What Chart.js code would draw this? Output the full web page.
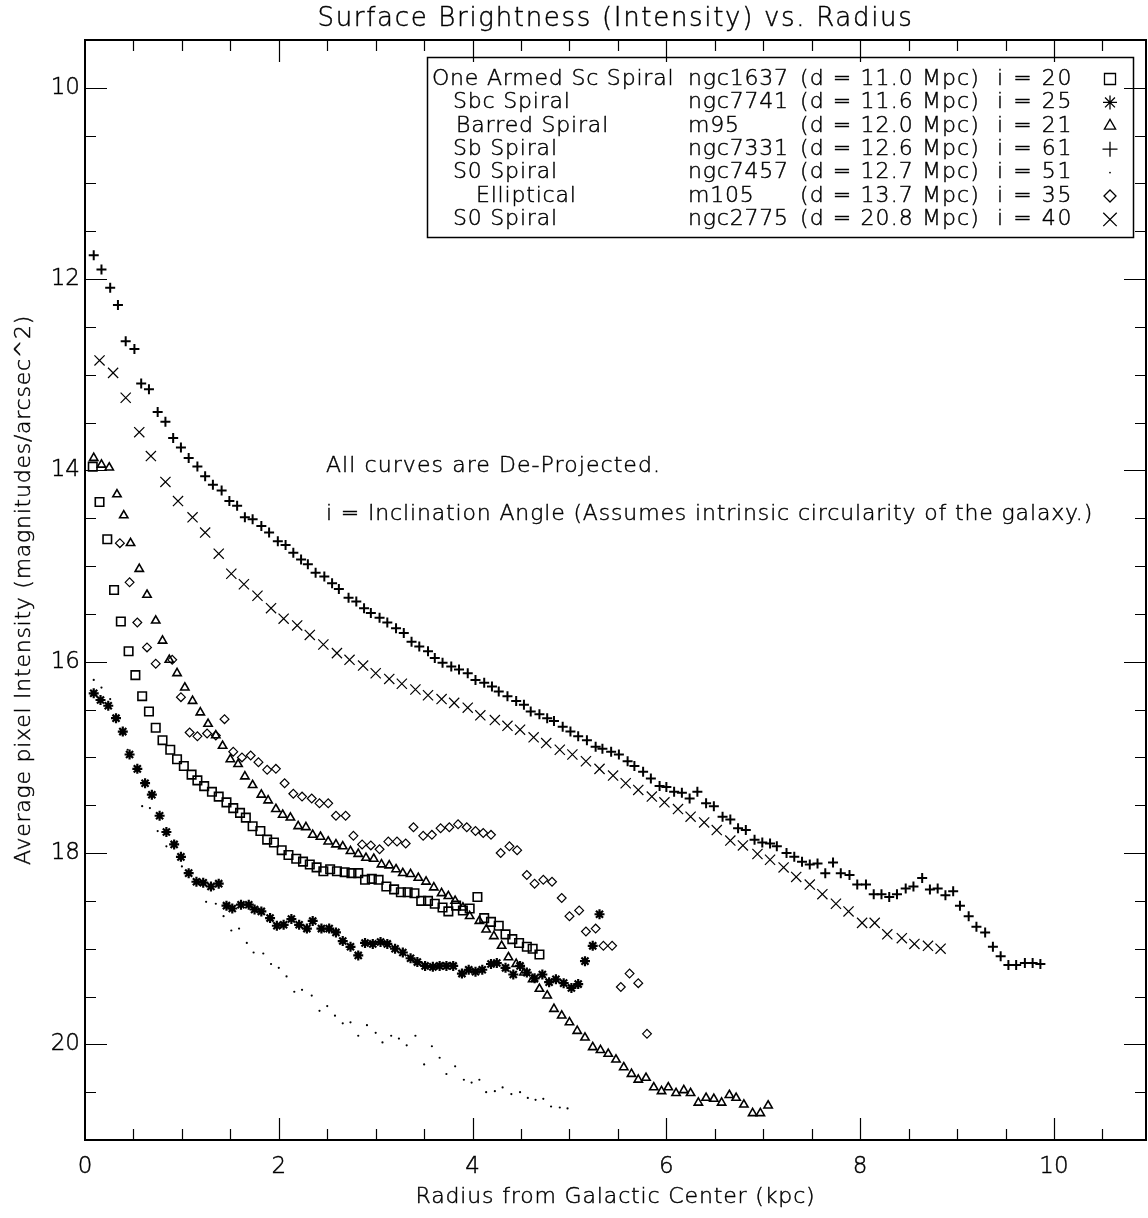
<!DOCTYPE html>
<html>
<head>
<meta charset="utf-8">
<title>Surface Brightness (Intensity) vs. Radius</title>
<script src="https://cdn.jsdelivr.net/npm/chart.js@4.4.1/dist/chart.umd.min.js"></script>
<style>
  html, body { margin: 0; padding: 0; background: #fff; }
  #wrap { width: 1148px; height: 1218px; }
</style>
</head>
<body>
<div id="wrap"><canvas id="sbChart" width="1148" height="1218"></canvas></div>
<script>
// Legend / galaxy info
const galaxyTypes = ['One Armed Sc Spiral', 'Sbc Spiral', 'Barred Spiral', 'Sb Spiral', 'S0 Spiral', 'Elliptical', 'S0 Spiral'];
const galaxyNames = ['ngc1637', 'ngc7741', 'm95', 'ngc7331', 'ngc7457', 'm105', 'ngc2775'];
const distances = ['11.0', '11.6', '12.0', '12.6', '12.7', '13.7', '20.8'];
const inclinations = [20, 25, 21, 61, 51, 35, 40];

// Axis ticks
const xTickLabels = [0, 2, 4, 6, 8, 10];
const yTickLabels = [10, 12, 14, 16, 18, 20];

// [radius (kpc), surface brightness (mag/arcsec^2)]
const ngc1637 = [[0.08,13.96],[0.15,14.33],[0.23,14.72],[0.30,15.25],[0.37,15.58],[0.45,15.89],[0.52,16.14],[0.59,16.36],[0.66,16.52],[0.73,16.69],
  [0.80,16.82],[0.88,16.92],[0.95,17.02],[1.02,17.09],[1.10,17.18],[1.16,17.24],[1.23,17.30],[1.31,17.36],[1.38,17.41],[1.46,17.47],
  [1.53,17.53],[1.60,17.58],[1.66,17.63],[1.73,17.72],[1.81,17.77],[1.88,17.86],[1.95,17.89],[2.03,17.97],[2.10,18.02],[2.18,18.06],
  [2.25,18.09],[2.32,18.12],[2.39,18.15],[2.46,18.19],[2.53,18.17],[2.60,18.19],[2.68,18.20],[2.75,18.21],[2.82,18.21],[2.89,18.28],
  [2.96,18.27],[3.03,18.28],[3.11,18.35],[3.19,18.38],[3.26,18.41],[3.33,18.41],[3.40,18.42],[3.47,18.50],[3.54,18.50],[3.61,18.53],
  [3.69,18.57],[3.75,18.61],[3.83,18.55],[3.90,18.60],[3.97,18.58],[4.05,18.46],[4.12,18.68],[4.19,18.72],[4.27,18.76],[4.34,18.85],
  [4.41,18.90],[4.48,18.94],[4.56,18.98],[4.62,19.00],[4.69,19.06]];

const ngc7741 = [[0.09,16.33],[0.16,16.40],[0.24,16.46],[0.32,16.59],[0.39,16.73],[0.46,16.97],[0.54,17.12],[0.62,17.27],[0.69,17.39],[0.77,17.61],
  [0.84,17.78],[0.92,17.91],[0.99,18.04],[1.07,18.21],[1.15,18.30],[1.22,18.31],[1.30,18.35],[1.38,18.32],[1.46,18.55],[1.52,18.58],
  [1.61,18.54],[1.69,18.54],[1.75,18.59],[1.82,18.61],[1.91,18.68],[1.98,18.76],[2.05,18.75],[2.13,18.69],[2.21,18.75],[2.29,18.79],
  [2.35,18.71],[2.44,18.79],[2.52,18.79],[2.59,18.83],[2.66,18.92],[2.74,18.98],[2.82,19.07],[2.89,18.94],[2.97,18.95],[3.05,18.93],
  [3.12,18.95],[3.20,19.00],[3.28,19.04],[3.36,19.10],[3.43,19.14],[3.51,19.18],[3.59,19.19],[3.66,19.18],[3.73,19.18],[3.80,19.18],
  [3.89,19.26],[3.96,19.22],[4.03,19.24],[4.10,19.22],[4.19,19.16],[4.25,19.15],[4.34,19.20],[4.42,19.27],[4.49,19.18],[4.56,19.25],
  [4.64,19.31],[4.72,19.27],[4.79,19.35],[4.86,19.32],[4.94,19.36],[5.02,19.41],[5.09,19.37],[5.16,19.13],[5.24,18.97],[5.31,18.64]];

const m95 = [[0.09,13.87],[0.17,13.94],[0.25,13.97],[0.33,14.25],[0.40,14.47],[0.47,14.76],[0.56,15.03],[0.64,15.30],[0.73,15.57],[0.80,15.78],
  [0.87,15.98],[0.95,16.12],[1.03,16.27],[1.11,16.41],[1.19,16.53],[1.27,16.65],[1.35,16.77],[1.42,16.88],[1.50,17.02],[1.58,17.07],
  [1.65,17.20],[1.73,17.29],[1.82,17.39],[1.89,17.45],[1.97,17.54],[2.04,17.60],[2.12,17.63],[2.20,17.72],[2.28,17.73],[2.35,17.81],
  [2.43,17.83],[2.51,17.88],[2.59,17.91],[2.66,17.93],[2.74,17.98],[2.82,18.01],[2.90,18.05],[2.98,18.06],[3.06,18.12],[3.14,18.13],
  [3.21,18.17],[3.28,18.21],[3.36,18.22],[3.44,18.26],[3.52,18.30],[3.60,18.36],[3.68,18.42],[3.75,18.45],[3.82,18.50],[3.90,18.57],
  [3.97,18.66],[4.07,18.71],[4.14,18.80],[4.22,18.87],[4.30,18.97],[4.37,19.09],[4.45,19.16],[4.53,19.25],[4.62,19.32],[4.69,19.42],
  [4.77,19.49],[4.84,19.63],[4.92,19.70],[5.00,19.77],[5.08,19.86],[5.16,19.93],[5.24,20.03],[5.32,20.06],[5.40,20.10],[5.48,20.16],
  [5.56,20.24],[5.64,20.31],[5.71,20.37],[5.79,20.35],[5.87,20.45],[5.95,20.49],[6.02,20.45],[6.10,20.51],[6.18,20.48],[6.25,20.51],
  [6.33,20.61],[6.41,20.56],[6.49,20.57],[6.57,20.61],[6.65,20.53],[6.72,20.56],[6.80,20.63],[6.89,20.72],[6.97,20.72],[7.05,20.64]];

const ngc7331 = [[0.09,11.75],[0.17,11.90],[0.26,12.09],[0.34,12.27],[0.42,12.65],[0.51,12.73],[0.58,13.09],[0.66,13.15],[0.75,13.39],[0.83,13.49],
  [0.91,13.66],[0.99,13.76],[1.07,13.87],[1.16,13.96],[1.24,14.06],[1.32,14.15],[1.41,14.21],[1.49,14.32],[1.57,14.37],[1.65,14.49],
  [1.73,14.51],[1.82,14.58],[1.90,14.65],[1.99,14.74],[2.07,14.78],[2.15,14.86],[2.23,14.93],[2.30,14.98],[2.38,15.07],[2.47,15.11],
  [2.55,15.18],[2.62,15.24],[2.72,15.33],[2.80,15.37],[2.88,15.44],[2.95,15.49],[3.04,15.54],[3.12,15.59],[3.21,15.65],[3.29,15.70],
  [3.37,15.79],[3.45,15.84],[3.54,15.89],[3.61,15.96],[3.69,16.01],[3.78,16.05],[3.86,16.08],[3.95,16.12],[4.03,16.19],[4.12,16.22],
  [4.20,16.26],[4.27,16.31],[4.36,16.36],[4.45,16.41],[4.53,16.45],[4.60,16.52],[4.69,16.55],[4.77,16.59],[4.84,16.62],[4.93,16.68],
  [5.01,16.73],[5.09,16.78],[5.18,16.82],[5.27,16.89],[5.34,16.91],[5.43,16.94],[5.51,16.97],[5.60,17.04],[5.67,17.09],[5.76,17.15],
  [5.84,17.22],[5.93,17.30],[6.00,17.31],[6.08,17.36],[6.16,17.37],[6.24,17.43],[6.32,17.36],[6.41,17.48],[6.49,17.51],[6.58,17.62],
  [6.66,17.65],[6.74,17.74],[6.82,17.76],[6.91,17.86],[6.99,17.89],[7.07,17.90],[7.14,17.93],[7.24,18.00],[7.32,18.04],[7.40,18.09],
  [7.48,18.12],[7.56,18.11],[7.64,18.21],[7.72,18.10],[7.80,18.21],[7.89,18.23],[7.97,18.33],[8.06,18.33],[8.14,18.43],[8.22,18.43],
  [8.30,18.46],[8.38,18.43],[8.47,18.37],[8.55,18.35],[8.64,18.26],[8.72,18.38],[8.80,18.37],[8.88,18.44],[8.96,18.40],[9.03,18.55],
  [9.12,18.66],[9.20,18.77],[9.29,18.83],[9.37,18.98],[9.45,19.08],[9.53,19.17],[9.61,19.17],[9.70,19.15],[9.78,19.15],[9.86,19.16]];

const ngc7457 = [[0.09,16.19],[0.17,16.27],[0.26,16.39],[0.44,16.92],[0.59,17.51],[0.67,17.53],[0.75,17.77],[0.84,17.93],[1.00,18.14],[1.25,18.51],
  [1.35,18.53],[1.43,18.66],[1.51,18.81],[1.59,18.79],[1.67,18.94],[1.74,19.04],[1.84,19.05],[1.92,19.16],[2.00,19.20],[2.08,19.29],
  [2.16,19.45],[2.24,19.43],[2.34,19.49],[2.42,19.65],[2.50,19.60],[2.58,19.70],[2.66,19.78],[2.74,19.77],[2.82,19.91],[2.91,19.80],
  [3.00,19.88],[3.07,19.98],[3.16,19.91],[3.24,19.94],[3.32,20.01],[3.41,19.91],[3.50,20.21],[3.58,20.02],[3.66,20.14],[3.73,20.31],
  [3.82,20.23],[3.91,20.37],[3.99,20.40],[4.07,20.37],[4.14,20.50],[4.23,20.49],[4.31,20.45],[4.40,20.52],[4.49,20.50],[4.57,20.56],
  [4.65,20.58],[4.73,20.57],[4.81,20.65],[4.90,20.66],[4.98,20.67]];

const m105 = [[0.36,14.76],[0.46,15.17],[0.54,15.59],[0.64,15.85],[0.73,16.02],[0.90,15.98],[0.99,16.37],[1.08,16.74],[1.16,16.78],[1.26,16.75],
  [1.35,16.77],[1.44,16.60],[1.53,16.94],[1.62,17.00],[1.71,16.98],[1.79,17.05],[1.88,17.13],[1.97,17.12],[2.06,17.27],[2.15,17.38],
  [2.24,17.41],[2.34,17.43],[2.42,17.48],[2.51,17.48],[2.59,17.61],[2.69,17.61],[2.77,17.82],[2.86,17.91],[2.95,17.92],[3.04,17.96],
  [3.13,17.88],[3.22,17.88],[3.31,17.90],[3.39,17.73],[3.49,17.82],[3.58,17.81],[3.67,17.74],[3.76,17.73],[3.85,17.70],[3.94,17.73],
  [4.03,17.77],[4.11,17.79],[4.19,17.81],[4.29,18.00],[4.38,17.93],[4.46,17.97],[4.56,18.23],[4.64,18.32],[4.73,18.28],[4.82,18.30],
  [4.92,18.47],[5.00,18.66],[5.10,18.60],[5.17,18.82],[5.27,18.79],[5.35,18.97],[5.44,18.97],[5.53,19.40],[5.62,19.26],[5.71,19.36],
  [5.80,19.89]];

const ngc2775 = [[0.15,12.85],[0.29,12.98],[0.42,13.24],[0.56,13.60],[0.68,13.85],[0.83,14.12],[0.96,14.32],[1.11,14.49],[1.24,14.65],[1.38,14.87],
  [1.51,15.08],[1.64,15.19],[1.78,15.31],[1.92,15.44],[2.05,15.55],[2.19,15.62],[2.32,15.72],[2.46,15.82],[2.60,15.91],[2.73,15.98],
  [2.87,16.04],[3.00,16.12],[3.14,16.18],[3.27,16.23],[3.41,16.29],[3.54,16.35],[3.68,16.39],[3.81,16.43],[3.95,16.48],[4.08,16.56],
  [4.23,16.61],[4.36,16.67],[4.49,16.71],[4.63,16.79],[4.76,16.85],[4.90,16.92],[5.03,16.97],[5.17,17.04],[5.31,17.12],[5.45,17.19],
  [5.58,17.27],[5.71,17.34],[5.85,17.41],[5.98,17.47],[6.12,17.54],[6.25,17.62],[6.39,17.68],[6.52,17.76],[6.66,17.87],[6.79,17.92],
  [6.94,18.01],[7.07,18.07],[7.21,18.15],[7.34,18.25],[7.48,18.33],[7.61,18.43],[7.75,18.53],[7.88,18.61],[8.02,18.73],[8.15,18.73],
  [8.28,18.85],[8.43,18.89],[8.56,18.95],[8.70,18.97],[8.83,19.00]];

const seriesData = [ngc1637, ngc7741, m95, ngc7331, ngc7457, m105, ngc2775];

// Marker look for each galaxy (same order as the legend)
const markers = [
  { pointStyle: 'rect',     radius: 6,   borderWidth: 1.6, fill: false },
  { pointStyle: 'star',     radius: 5,   borderWidth: 2.2, fill: false },
  { pointStyle: 'triangle', radius: 4.8, borderWidth: 1.6, fill: false },
  { pointStyle: 'cross',    radius: 5,   borderWidth: 2,   fill: false },
  { pointStyle: 'circle',   radius: 1.1, borderWidth: 0,   fill: true  },
  { pointStyle: 'rectRot',  radius: 4.4, borderWidth: 1.2, fill: false },
  { pointStyle: 'crossRot', radius: 7.2, borderWidth: 1.2, fill: false }
];
// bigger, thin symbols in the legend box
const legendMarkers = [
  { pointStyle: 'rect',     radius: 7.8, borderWidth: 1.3, fill: false },
  { pointStyle: 'star',     radius: 7,   borderWidth: 1.3, fill: false },
  { pointStyle: 'triangle', radius: 6.5, borderWidth: 1.3, fill: false },
  { pointStyle: 'cross',    radius: 7.5, borderWidth: 1.3, fill: false },
  { pointStyle: 'circle',   radius: 0.9, borderWidth: 0,   fill: true  },
  { pointStyle: 'rectRot',  radius: 6,   borderWidth: 1.3, fill: false },
  { pointStyle: 'crossRot', radius: 9.5, borderWidth: 1.3, fill: false }
];

const FONT = '"DejaVu Sans", sans-serif';

function drawMarker(ctx, m, x, y) {
  ctx.save();
  ctx.strokeStyle = '#000';
  ctx.fillStyle = m.fill ? '#000' : '#fff';
  ctx.lineWidth = m.borderWidth;
  if (Chart.helpers && Chart.helpers.drawPoint) {
    Chart.helpers.drawPoint(ctx, { pointStyle: m.pointStyle, radius: m.radius, borderWidth: m.borderWidth, rotation: 0 }, x, y);
  } else {
    ctx.beginPath();
    ctx.arc(x, y, 2, 0, Math.PI * 2);
    ctx.fill();
  }
  ctx.restore();
}

// thin lettering, optionally stretched to a given width
function drawText(ctx, str, x, y, size, opts = {}) {
  ctx.save();
  ctx.font = '200 ' + size + 'px ' + FONT;
  ctx.textAlign = opts.align || 'left';
  ctx.textBaseline = 'middle';
  if ('letterSpacing' in ctx) {
    if (opts.width) {
      ctx.letterSpacing = '0px';
      const w = ctx.measureText(str).width;
      ctx.letterSpacing = ((opts.width - w) / str.length).toFixed(2) + 'px';
    } else if (opts.spacing) {
      ctx.letterSpacing = opts.spacing + 'px';
    }
  }
  ctx.translate(x, y);
  if (opts.rotate) ctx.rotate(opts.rotate);
  ctx.fillStyle = '#000';
  ctx.strokeStyle = '#000';
  ctx.lineWidth = 0.45;
  ctx.fillText(str, 0, 0);
  ctx.strokeText(str, 0, 0);
  ctx.restore();
}

// Frame, inward ticks, labels, notes and legend box
const framePlugin = {
  id: 'framePlugin',
  afterDraw(chart) {
    const { ctx, chartArea: a, scales: { x, y } } = chart;
    ctx.save();
    ctx.strokeStyle = '#000';
    ctx.lineWidth = 2;
    ctx.strokeRect(a.left, a.top, a.right - a.left, a.bottom - a.top);

    ctx.lineWidth = 1.2;
    ctx.beginPath();
    for (let v = 0.5; v < x.max; v += 0.5) {
      const px = Math.round(x.getPixelForValue(v)) + 0.5;
      const len = v % 2 === 0 ? 22 : 11;
      ctx.moveTo(px, a.bottom); ctx.lineTo(px, a.bottom - len);
      ctx.moveTo(px, a.top); ctx.lineTo(px, a.top + len);
    }
    for (let v = 10; v < y.max; v += 0.5) {
      const py = Math.round(y.getPixelForValue(v)) + 0.5;
      const len = v % 2 === 0 ? 22 : 11;
      ctx.moveTo(a.left, py); ctx.lineTo(a.left + len, py);
      ctx.moveTo(a.right, py); ctx.lineTo(a.right - len, py);
    }
    ctx.stroke();
    ctx.restore();

    // tick labels
    xTickLabels.forEach(v => drawText(ctx, String(v), x.getPixelForValue(v), a.bottom + 27, 23, { align: 'center' }));
    yTickLabels.forEach(v => drawText(ctx, String(v), a.left - 5, y.getPixelForValue(v), 23, { align: 'right' }));

    // titles
    const cx = (a.left + a.right) / 2;
    drawText(ctx, 'Surface Brightness (Intensity) vs. Radius', cx, 19, 26, { align: 'center', width: 596 });
    drawText(ctx, 'Radius from Galactic Center (kpc)', cx, 1197, 22, { align: 'center', width: 400 });
    drawText(ctx, 'Average pixel Intensity (magnitudes/arcsec^2)', 24, (a.top + a.bottom) / 2, 22,
      { align: 'center', width: 550, rotate: -Math.PI / 2 });

    // notes
    drawText(ctx, 'All curves are De-Projected.', 326, 466, 22, { width: 335 });
    drawText(ctx, 'i = Inclination Angle (Assumes intrinsic circularity of the galaxy.)', 326, 514, 22, { width: 767 });

    // legend box
    ctx.save();
    ctx.strokeStyle = '#000';
    ctx.lineWidth = 1.5;
    ctx.strokeRect(427.5, 57.5, 706, 180);
    ctx.restore();
    const indent = [0, 21, 24, 21, 21, 44, 21];
    galaxyTypes.forEach((t, i) => {
      const ry = 79 + i * 23.4;
      drawText(ctx, t, 432 + indent[i], ry, 22, { spacing: 0.8 });
      drawText(ctx, galaxyNames[i], 688, ry, 22, { spacing: 0.8 });
      drawText(ctx, '(d = ' + distances[i] + ' Mpc)', 800, ry, 22, { width: 180 });
      drawText(ctx, 'i = ' + inclinations[i], 997, ry, 22, { width: 76 });
      drawMarker(ctx, legendMarkers[i], 1110, ry);
    });
  }
};

const datasets = seriesData.map((rows, i) => ({
  label: galaxyNames[i],
  data: rows.map(([r, mu]) => ({ x: r, y: mu })),
  pointStyle: markers[i].pointStyle,
  pointRadius: markers[i].radius,
  pointBorderWidth: markers[i].borderWidth,
  borderColor: '#000',
  backgroundColor: markers[i].fill ? '#000' : 'rgba(0,0,0,0)',
  showLine: false
}));

new Chart(document.getElementById('sbChart').getContext('2d'), {
  type: 'scatter',
  data: { datasets },
  options: {
    responsive: false,
    animation: false,
    devicePixelRatio: 1,
    layout: { autoPadding: false, padding: { top: 40, right: 2, left: 0, bottom: 0 } },
    plugins: {
      legend: { display: false },
      tooltip: { enabled: false }
    },
    scales: {
      x: {
        type: 'linear',
        min: 0,
        max: 10.95,
        grid: { display: false, drawTicks: false },
        border: { display: false },
        ticks: { display: false },
        afterFit: s => { s.height = 78; }
      },
      y: {
        type: 'linear',
        min: 9.5,
        max: 21,
        reverse: true,
        grid: { display: false, drawTicks: false },
        border: { display: false },
        ticks: { display: false },
        afterFit: s => { s.width = 85; }
      }
    }
  },
  plugins: [framePlugin]
});
</script>
</body>
</html>
